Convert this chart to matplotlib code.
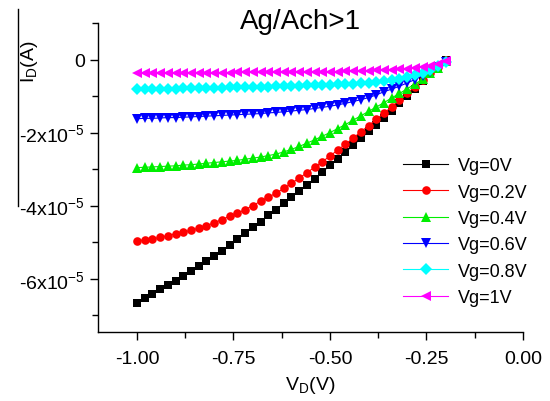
import matplotlib
matplotlib.use("Agg")
import matplotlib.pyplot as plt
from matplotlib.lines import Line2D
from matplotlib.ticker import FixedLocator, MultipleLocator

plt.rcParams['font.family'] = ['Liberation Sans', 'DejaVu Sans']
plt.rcParams['mathtext.fontset'] = 'custom'
plt.rcParams['mathtext.rm'] = 'Liberation Sans'
plt.rcParams['mathtext.it'] = 'Liberation Sans'

vd = [-1.00, -0.98, -0.96, -0.94, -0.92, -0.90, -0.88, -0.86, -0.84, -0.82,
      -0.80, -0.78, -0.76, -0.74, -0.72, -0.70, -0.68, -0.66, -0.64, -0.62,
      -0.60, -0.58, -0.56, -0.54, -0.52, -0.50, -0.48, -0.46, -0.44, -0.42,
      -0.40, -0.38, -0.36, -0.34, -0.32, -0.30, -0.28, -0.26, -0.24, -0.22,
      -0.20]

# drain current in units of 1e-5 A
id_vg0 = [-6.67, -6.53, -6.42, -6.29, -6.18, -6.05, -5.93, -5.79, -5.66, -5.52,
          -5.38, -5.23, -5.08, -4.91, -4.75, -4.59, -4.44, -4.27, -4.11, -3.94,
          -3.77, -3.60, -3.43, -3.26, -3.08, -2.90, -2.72, -2.53, -2.35, -2.16,
          -1.97, -1.78, -1.59, -1.40, -1.20, -1.00, -0.80, -0.60, -0.40, -0.21,
          0.00]
id_vg02 = [-4.96, -4.94, -4.91, -4.87, -4.82, -4.77, -4.73, -4.67, -4.62, -4.55,
           -4.47, -4.38, -4.29, -4.21, -4.11, -4.00, -3.88, -3.77, -3.66, -3.53,
           -3.39, -3.25, -3.10, -2.95, -2.80, -2.64, -2.48, -2.32, -2.15, -1.98,
           -1.81, -1.64, -1.47, -1.29, -1.11, -0.93, -0.74, -0.55, -0.37, -0.20,
           -0.02]
id_vg04 = [-2.96, -2.95, -2.94, -2.93, -2.92, -2.91, -2.89, -2.88, -2.86, -2.84,
           -2.82, -2.80, -2.78, -2.76, -2.73, -2.70, -2.67, -2.63, -2.59, -2.53,
           -2.46, -2.38, -2.29, -2.20, -2.10, -2.00, -1.89, -1.78, -1.66, -1.54,
           -1.42, -1.30, -1.18, -1.05, -0.93, -0.80, -0.67, -0.54, -0.38, -0.22,
           -0.05]
id_vg06 = [-1.62, -1.61, -1.61, -1.60, -1.59, -1.59, -1.58, -1.57, -1.56, -1.55,
           -1.54, -1.53, -1.52, -1.51, -1.50, -1.49, -1.48, -1.46, -1.45, -1.43,
           -1.41, -1.39, -1.37, -1.34, -1.31, -1.28, -1.24, -1.20, -1.15, -1.10,
           -1.04, -0.97, -0.88, -0.81, -0.73, -0.64, -0.55, -0.44, -0.33, -0.20,
           -0.06]
id_vg08 = [-0.82, -0.82, -0.81, -0.81, -0.80, -0.80, -0.79, -0.79, -0.78, -0.78,
           -0.77, -0.77, -0.76, -0.76, -0.75, -0.75, -0.74, -0.74, -0.73, -0.73,
           -0.72, -0.72, -0.71, -0.70, -0.70, -0.69, -0.68, -0.67, -0.66, -0.65,
           -0.63, -0.61, -0.59, -0.56, -0.52, -0.48, -0.43, -0.37, -0.29, -0.19,
           -0.06]
id_vg1 = [-0.38, -0.38, -0.38, -0.37, -0.37, -0.37, -0.37, -0.37, -0.36, -0.36,
          -0.36, -0.36, -0.36, -0.35, -0.35, -0.35, -0.35, -0.35, -0.35, -0.34,
          -0.34, -0.34, -0.34, -0.33, -0.33, -0.33, -0.33, -0.32, -0.32, -0.32,
          -0.31, -0.30, -0.29, -0.28, -0.27, -0.25, -0.23, -0.20, -0.17, -0.12,
          -0.05]

labels = ['Vg=0V', 'Vg=0.2V', 'Vg=0.4V', 'Vg=0.6V', 'Vg=0.8V', 'Vg=1V']
series = [id_vg0, id_vg02, id_vg04, id_vg06, id_vg08, id_vg1]
colors = ['#000000', '#FF0000', '#00EE00', '#0000FF', '#00FFFF', '#FF00FF']
markers = ['s', 'o', '^', 'v', 'D', '<']
msizes = [5.5, 6.2, 7.5, 7.5, 6, 7.5]

xticks = [-1.00, -0.75, -0.50, -0.25, 0.00]
xticklabels = ['-1.00', '-0.75', '-0.50', '-0.25', '0.00']
yticks = [0, -2, -4, -6]
yticklabels = ['0', r'-2x10$^{-5}$', r'-4x10$^{-5}$', r'-6x10$^{-5}$']

fig = plt.figure(figsize=(5.5, 4.02), dpi=100)
ax = fig.add_axes([98/550, 1-333/402, (523-98)/550, (333-24)/402])

for ys, c, m, ms, lab in zip(series, colors, markers, msizes, labels):
    ax.plot(vd, ys, color=c, lw=0.8, marker=m, markersize=ms,
            markeredgewidth=0, label=lab)

ax.set_xlim(-1.101, 0.0)
ax.set_ylim(-7.46, 1.0)
ax.spines['top'].set_visible(False)
ax.spines['right'].set_visible(False)
ax.spines['left'].set_linewidth(1.0)
ax.spines['bottom'].set_linewidth(1.0)

ax.xaxis.set_major_locator(FixedLocator(xticks))
ax.set_xticklabels(xticklabels)
ax.xaxis.set_minor_locator(MultipleLocator(0.125))
ax.yaxis.set_major_locator(FixedLocator(yticks))
ax.set_yticklabels(yticklabels)
ax.yaxis.set_minor_locator(MultipleLocator(1))
ax.tick_params(which='major', direction='out', length=6, width=1, labelsize=14)
ax.tick_params(which='minor', direction='out', length=4, width=1)
ax.tick_params(axis='x', pad=7)

ax.set_xlabel(r'V$_\mathrm{D}$(V)', fontsize=14, labelpad=5)
fig.text(30/550, 1-62/402, r'I$_\mathrm{D}$(A)', rotation=90, fontsize=14,
         ha='center', va='center')
fig.add_artist(Line2D([18/550, 18/550], [1-10/402, 1-207/402],
                      color='black', lw=1.0, transform=fig.transFigure))
fig.text(301/550, 1-22/402, 'Ag/Ach>1', fontsize=20, ha='center', va='center')

leg = ax.legend(loc='upper left', bbox_to_anchor=(298/425, (333-151)/309),
                frameon=False, fontsize=13, handlelength=2.5,
                labelspacing=0.52, handletextpad=0.55, borderaxespad=0)
for h in leg.legend_handles:
    h.set_alpha(1)

fig.savefig('out.png', dpi=100)
